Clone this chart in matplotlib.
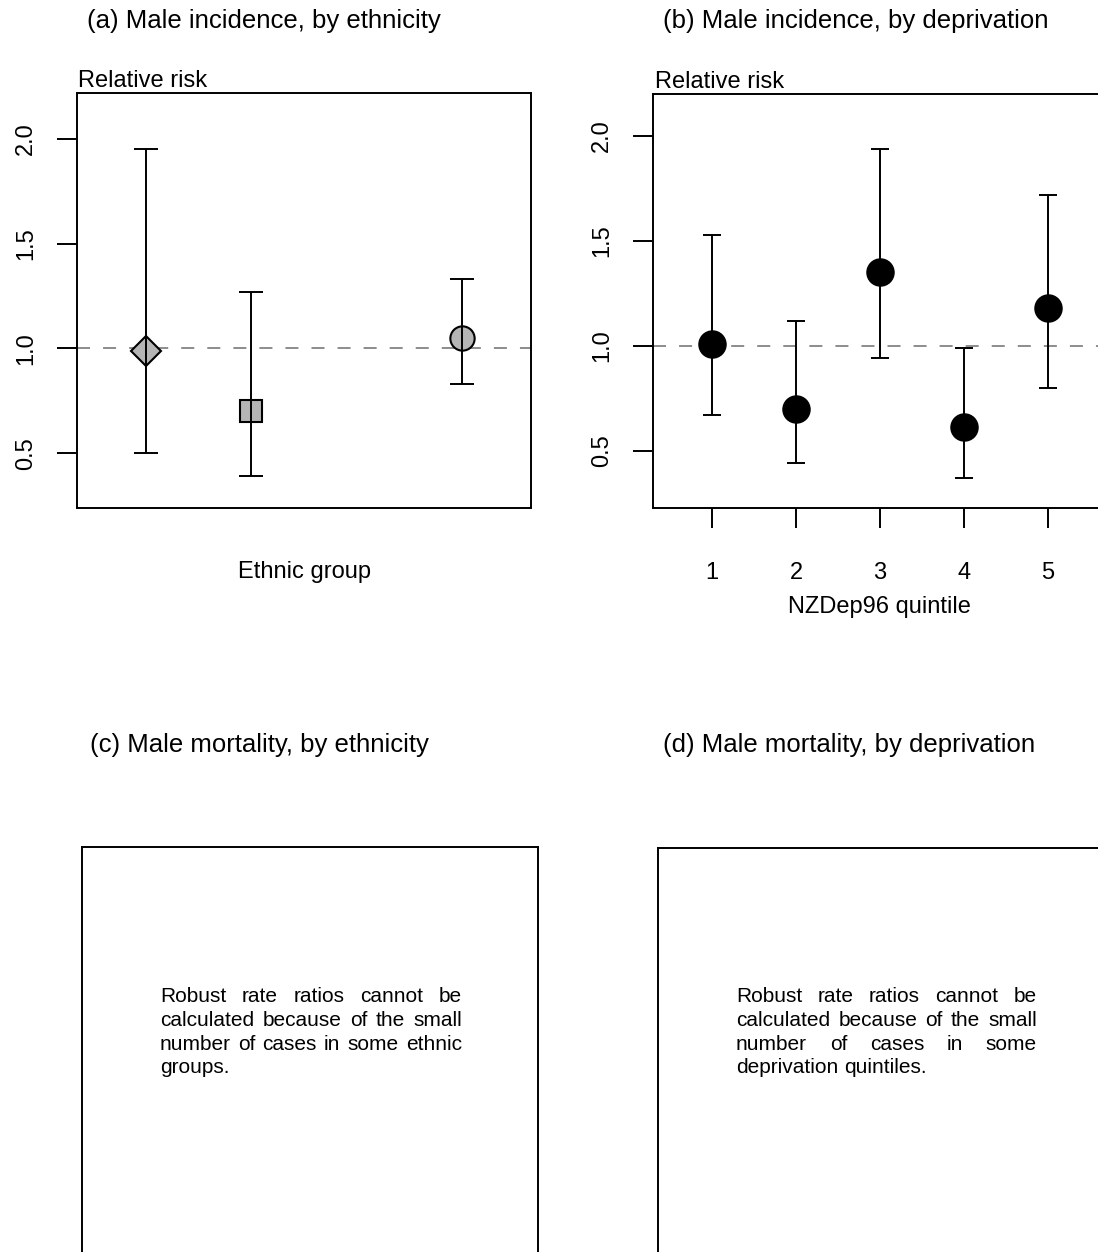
import matplotlib
matplotlib.use('Agg')
import matplotlib.pyplot as plt

plt.rcParams['font.family'] = ['Liberation Sans', 'DejaVu Sans']

# Datos: incidencia masculina por etnia (posiciones 1, 2, 4) y por quintil NZDep96
eth_pos = [1, 2, 4]
eth_rr = [0.99, 0.70, 1.05]
eth_lo = [0.50, 0.39, 0.83]
eth_hi = [1.95, 1.27, 1.33]
eth_markers = ['D', 's', 'o']
eth_msize = [15.5, 15.5, 17.5]

dep_q = [1, 2, 3, 4, 5]
dep_rr = [1.01, 0.70, 1.35, 0.61, 1.18]
dep_lo = [0.67, 0.44, 0.94, 0.37, 0.80]
dep_hi = [1.53, 1.12, 1.94, 0.99, 1.72]

titles = ['(a) Male incidence, by ethnicity', '(b) Male incidence, by deprivation',
          '(c) Male mortality, by ethnicity', '(d) Male mortality, by deprivation']
yticks = [0.5, 1.0, 1.5, 2.0]

note_c = ['Robust rate ratios cannot be', 'calculated because of the small',
          'number of cases in some ethnic', 'groups.']
note_d = ['Robust rate ratios cannot be', 'calculated because of the small',
          'number of cases in some', 'deprivation quintiles.']

W, H = 1098, 1252
fig = plt.figure(figsize=(W / 100, H / 100), dpi=100)


def box(x0, y0, x1, y1):
    # caja en pixeles (origen arriba a la izquierda) -> fraccion de figura
    return [x0 / W, 1 - y1 / H, (x1 - x0) / W, (y1 - y0) / H]


def fxy(x, y):
    return x / W, 1 - y / H


LW = 1.4
GREY = '#b5b5b5'

ax_a = fig.add_axes(box(77, 93.3, 531, 508.3))
ax_b = fig.add_axes(box(653.3, 93.8, 1106.5, 508.3))
ax_c = fig.add_axes(box(82.3, 847.3, 538.3, 1262.3))
ax_d = fig.add_axes(box(658, 848, 1114, 1263))

for ax in [ax_a, ax_b, ax_c, ax_d]:
    for s in ax.spines.values():
        s.set_linewidth(LW)

# (a) por etnia
ax_a.axhline(1.0, color='#8c8c8c', lw=LW, ls=(0, (6.7, 6.7)), zorder=1)
for x, rr, lo, hi, m, ms in zip(eth_pos, eth_rr, eth_lo, eth_hi, eth_markers, eth_msize):
    ax_a.plot(x, rr, marker=m, ms=ms, mfc=GREY, mec='black', mew=1.5, ls='none', zorder=2)
    ax_a.errorbar(x, rr, yerr=[[rr - lo], [hi - rr]], fmt='none', ecolor='black',
                  elinewidth=LW, capsize=8.3, capthick=LW, zorder=3)
ax_a.set_xlim(0.34, 4.66)
ax_a.set_ylim(0.237, 2.218)
ax_a.set_xticks([])
ax_a.text(0.5, -0.153, 'Ethnic group', transform=ax_a.transAxes, ha='center', va='center', fontsize=17)

# (b) por deprivacion
ax_b.axhline(1.0, color='#8c8c8c', lw=LW, ls=(0, (6.7, 6.7)), zorder=1)
ax_b.errorbar(dep_q, dep_rr, yerr=[[r - l for r, l in zip(dep_rr, dep_lo)],
                                   [h - r for r, h in zip(dep_rr, dep_hi)]],
              fmt='o', ms=19.5, color='black', ecolor='black', elinewidth=LW,
              capsize=6.8, capthick=LW, zorder=3)
ax_b.set_xlim(0.3, 5.7)
ax_b.set_ylim(0.2245, 2.201)
ax_b.set_xticks(dep_q)
ax_b.set_xticklabels([str(q) for q in dep_q])
ax_b.tick_params(axis='x', length=14.4, width=LW, pad=24.5, labelsize=17)
ax_b.text(0.5, -0.239, 'NZDep96 quintile', transform=ax_b.transAxes, ha='center', va='center', fontsize=17)

for ax in [ax_a, ax_b]:
    ax.set_yticks(yticks)
    ax.set_yticklabels([f'{v:.1f}' for v in yticks])
    ax.tick_params(axis='y', length=14.4, width=LW, pad=14.5, labelsize=17, labelrotation=90)
    for lab in ax.get_yticklabels():
        lab.set_va('center')
    ax.text(0.003, 1.015, 'Relative risk', transform=ax.transAxes, ha='left', va='baseline', fontsize=17)

for ax in [ax_c, ax_d]:
    ax.set_xticks([])
    ax.set_yticks([])

# titulos
for t, (x, y) in zip(titles, [(87, 28), (663, 28), (90, 752), (663, 752)]):
    fig.text(*fxy(x, y), t, ha='left', va='baseline', fontsize=18.5)

# texto justificado en los paneles vacios
fig.canvas.draw()
renderer = fig.canvas.get_renderer()


def word_w(w, fs):
    t = fig.text(0, 0, w, fontsize=fs)
    wd = t.get_window_extent(renderer).width
    t.remove()
    return wd


def justified(lines, x0, x1, y0, step, fs=15):
    sp = word_w('a b', fs) - word_w('ab', fs)
    for i, line in enumerate(lines):
        words = line.split()
        widths = [word_w(w, fs) for w in words]
        if i < len(lines) - 1 and len(words) > 1:
            gap = (x1 - x0 - sum(widths)) / (len(words) - 1)
        else:
            gap = sp
        x = x0
        for w, wd in zip(words, widths):
            fig.text(*fxy(x, y0 + i * step), w, ha='left', va='baseline', fontsize=fs)
            x += wd + gap


justified(note_c, 160, 461.7, 1001.7, 23.9)
justified(note_d, 736, 1037, 1001.7, 23.9)

fig.savefig('out.png', dpi=100)
